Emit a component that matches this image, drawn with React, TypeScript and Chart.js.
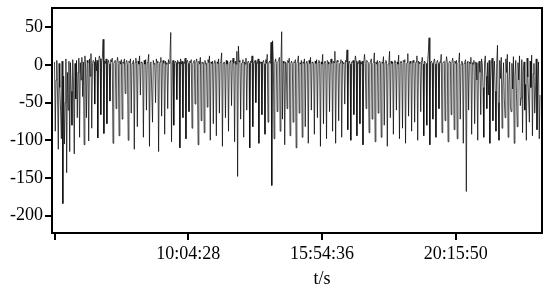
import React, { useEffect, useRef } from 'react';
import { Chart, registerables } from 'chart.js';

Chart.register(...registerables);

// Signal samples (one per index)
const signal: number[] = [
  4, -88, -20, 6, -40, -112, 2, -30, -60, -98, 5, -184, -15, -105, -50, 8,
  -143, -10, -60, 5, -115, 3, -35, -80, 7, -25, -118, 2, -45, 6, -70, -10,
  9, -96, 3, -20, 10, -42, 4, -106, 12, -5, -70, 6, 3, -101, 8, -15,
  15, -84, 2, 6, 4, -52, 10, -8, 6, -97, 3, 12, 8, -66, 4, 10,
  34, -91, 5, 2, 8, -78, 3, 6, 1, -48, 7, 4, 9, -104, 2, 5,
  6, -58, 3, 10, 2, -94, 5, 1, 7, -72, 4, 2, 8, -38, 3, 6,
  1, -100, 5, 3, 8, -64, 2, 4, 6, -112, 3, 9, 2, -82, 5, 1,
  12, -40, 4, 3, 2, -96, 6, 1, 7, -60, 3, 5, 14, -108, 2, 4,
  4, -76, 6, 1, 2, -50, 8, 3, 5, -115, 2, 4, 10, -68, 3, 6,
  2, -92, 5, 1, 3, -58, 7, 2, 15, 43, -102, 3, 6, -80, 2, 5,
  3, -46, 6, 2, 4, -110, 8, 1, 5, -70, 3, 2, 9, -98, 4, 6,
  2, -62, 5, 3, 7, -84, 1, 4, 6, -52, 3, 8, 2, -106, 5, 1,
  10, -74, 4, 2, 3, -90, 6, 1, 2, -56, 7, 3, 12, -100, 4, 2,
  5, -78, 3, 6, 1, -94, 4, 2, 8, -64, 3, 5, 16, -108, 2, 4,
  3, -70, 6, 1, 5, -88, 2, 4, 6, -54, 3, 9, 2, -102, 5, 1,
  18, -148, 25, 4, 6, -72, 2, 3, 7, -96, 4, 1, 9, -60, 3, 5,
  2, -110, 5, 3, 12, -82, 1, 4, 6, -50, 3, 2, 8, -104, 5, 2,
  4, -66, 3, 6, 1, -92, 7, 2, 14, -76, 3, 5, 2, 30, -160, 32,
  5, -98, 3, 8, 2, -62, 4, 6, 10, -88, 3, 44, -72, 5, 2, -106,
  4, 2, -58, 6, 3, 9, -94, 2, 5, 1, -76, 4, 3, 7, -110, 2,
  5, 12, -64, 3, 1, 6, -96, 4, 2, 8, -82, 3, 5, 1, -104, 6,
  2, 10, -60, 4, 3, 1, -92, 5, 2, 7, -70, 3, 6, 2, -108, 4,
  1, 14, -78, 3, 5, 2, -98, 6, 4, 1, -62, 3, 8, 2, -88, 5,
  3, 18, -104, 2, 6, 4, -74, 1, 3, 7, -96, 5, 2, 3, -52, 6,
  4, 20, -86, 2, 5, 1, -100, 4, 3, 6, -66, 2, 12, 5, -94, 3,
  2, 6, -78, 4, 1, 5, -106, 3, 14, 2, -58, 6, 4, 3, -90, 1,
  5, 8, -72, 2, 3, 16, -102, 4, 1, 6, -64, 3, 5, 2, -96, 4,
  2, 11, -80, 3, 6, 4, -108, 1, 3, 18, -70, 5, 2, 4, -92, 3,
  6, 2, -60, 4, 1, 13, -98, 3, 5, 2, -84, 6, 4, 7, -104, 2,
  3, 15, -68, 1, 5, 2, -88, 4, 6, 3, -76, 2, 4, 12, -100, 5,
  2, 4, -62, 3, 10, 1, -94, 5, 3, 2, -80, 4, 17, 36, -106, 3,
  5, 2, -72, 4, 8, 1, -96, 3, 6, 2, -58, 4, 3, 14, -90, 2,
  4, 5, -74, 1, 11, 3, -102, 2, 5, 4, -66, 3, 9, 2, -86, 5,
  2, 6, -98, 3, 4, 16, -72, 1, 5, 3, -104, 2, 4, 7, -168, 3,
  5, -60, 4, 2, 10, -92, 3, 1, 6, -78, 4, 3, -20, -100, 2, 5,
  -10, -66, 8, 2, -30, -96, 4, 12, -15, -58, 3, -40, 6, -104, -22, 4,
  9, -74, -12, 5, -35, -88, 2, 26, -50, -100, 6, -18, 10, -84, -28, 3,
  -45, -70, 8, -10, 14, -96, -25, 4, -55, -62, 2, -32, 11, -104, -14, 6,
  -38, -82, 3, -20, 12, -54, -44, 7, -90, -8, 4, -60, -26, -100, 9, -16,
  -48, -76, 5, -30, 13, -94, -12, 2, -64, -36, 8, -86, -20, 4, -98, -40,
];

const xTickPositions: number[] = [0, 176, 352, 528];
const xTickLabels: string[] = ['', '10:04:28', '15:54:36', '20:15:50'];
const yTickValues: number[] = [50, 0, -50, -100, -150, -200];
const xAxisTitle = 't/s';
const titleAnchorIndex = 352;

const FONT = "'Liberation Serif', 'DejaVu Serif', serif";
const FONT_SIZE = 18;

export default function App() {
  const ref = useRef<HTMLCanvasElement | null>(null);

  useEffect(() => {
    document.body.style.margin = '0';
    const canvas = ref.current;
    if (!canvas) return;

    const frame = {
      id: 'frame',
      afterDraw(chart: any) {
        const { ctx, chartArea: a } = chart;
        ctx.save();
        ctx.strokeStyle = '#000';
        ctx.lineWidth = 2;
        ctx.strokeRect(a.left, a.top, a.right - a.left, a.bottom - a.top);
        ctx.restore();
      },
    };

    const xTitle = {
      id: 'xTitle',
      afterDraw(chart: any) {
        const { ctx } = chart;
        const x = chart.scales.x.getPixelForValue(titleAnchorIndex);
        ctx.save();
        ctx.fillStyle = '#000';
        ctx.font = `${FONT_SIZE}px ${FONT}`;
        ctx.textAlign = 'center';
        ctx.textBaseline = 'middle';
        ctx.fillText(xAxisTitle, x, 279);
        ctx.restore();
      },
    };

    const chart = new Chart(canvas, {
      type: 'line',
      data: {
        datasets: [
          {
            data: signal.map((v, i) => ({ x: i, y: v })),
            borderColor: '#000',
            borderWidth: 0.7,
            pointRadius: 0,
            tension: 0,
            fill: false,
          },
        ],
      },
      options: {
        animation: false,
        responsive: true,
        maintainAspectRatio: false,
        layout: { padding: { top: 8, right: 8, left: 0, bottom: 0 } },
        plugins: { legend: { display: false }, tooltip: { enabled: false } },
        scales: {
          x: {
            type: 'linear',
            min: -3.3,
            max: 641.6,
            afterBuildTicks: (s: any) => {
              s.ticks = xTickPositions.map((v) => ({ value: v }));
            },
            afterFit: (s: any) => {
              s.height = 63;
              s.paddingLeft = 0;
              s.paddingRight = 0;
            },
            ticks: {
              autoSkip: false,
              maxRotation: 0,
              padding: 3,
              color: '#000',
              font: { family: FONT, size: FONT_SIZE },
              callback: (_v: any, i: number) => xTickLabels[i] ?? '',
            },
            grid: {
              drawOnChartArea: false,
              drawTicks: true,
              tickLength: 7,
              color: '#000',
              lineWidth: 2,
            },
            border: { display: true, color: '#000', width: 2 },
          },
          y: {
            type: 'linear',
            min: -223,
            max: 75.5,
            afterBuildTicks: (s: any) => {
              s.ticks = yTickValues.map((v) => ({ value: v }));
            },
            afterFit: (s: any) => {
              s.width = 52;
              s.paddingTop = 0;
              s.paddingBottom = 0;
            },
            ticks: {
              padding: 2,
              color: '#000',
              font: { family: FONT, size: FONT_SIZE },
              callback: (v: any) => String(v),
            },
            grid: {
              drawOnChartArea: false,
              drawTicks: true,
              tickLength: 7,
              color: '#000',
              lineWidth: 2,
            },
            border: { display: true, color: '#000', width: 2 },
          },
        },
      },
      plugins: [frame, xTitle],
    });

    return () => chart.destroy();
  }, []);

  return (
    <div style={{ width: 550, height: 296, position: 'relative' }}>
      <canvas ref={ref} />
    </div>
  );
}
